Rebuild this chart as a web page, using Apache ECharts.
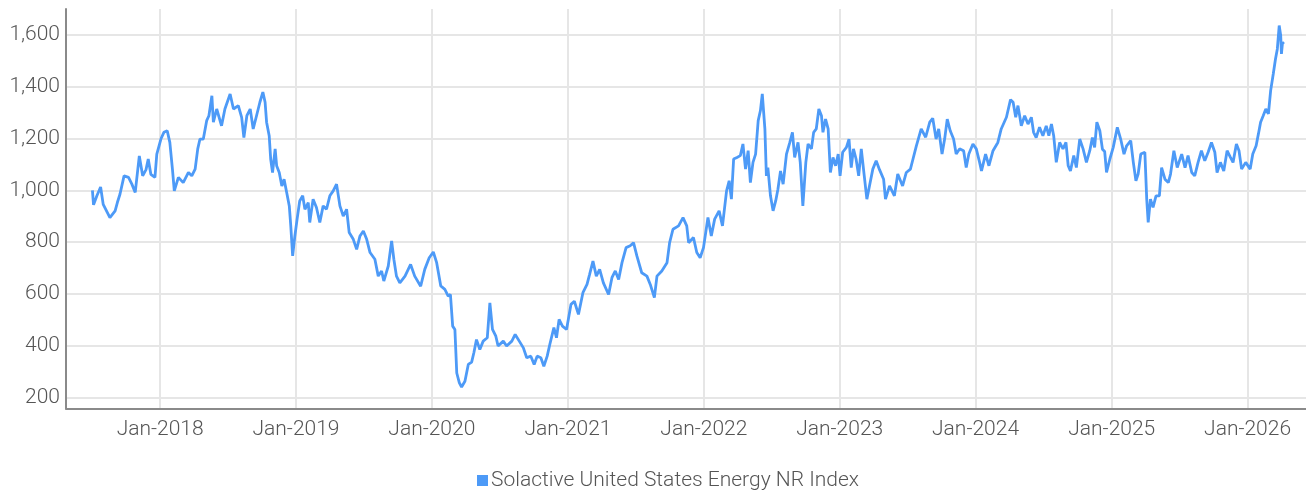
<!DOCTYPE html>
<html>
<head>
<meta charset="utf-8">
<script src="https://cdn.jsdelivr.net/npm/echarts@6/dist/echarts.min.js"></script>
<style>
html,body{margin:0;padding:0;background:#fff;}
#chart{width:1306px;height:493px;}
</style>
</head>
<body>
<div id="chart"></div>
<script>
const seriesName = 'Solactive United States Energy NR Index';
const yearTickLabels = ['Jan-2018','Jan-2019','Jan-2020','Jan-2021','Jan-2022','Jan-2023','Jan-2024','Jan-2025','Jan-2026'];

const dates2017 = ['2017-07-03','2017-07-06','2017-07-15','2017-07-25','2017-08-01','2017-08-19','2017-09-02','2017-09-08','2017-09-15','2017-09-26','2017-10-08','2017-10-17','2017-10-26','2017-11-06','2017-11-15','2017-11-24','2017-11-30','2017-12-07','2017-12-18','2017-12-23'];
const values2017 = [1000,944,979,1013,946,895,921,953,985,1056,1050,1024,992,1133,1056,1080,1121,1062,1050,1140];

const dates2018 = ['2018-01-03','2018-01-11','2018-01-20','2018-01-27','2018-02-03','2018-02-08','2018-02-19','2018-03-04','2018-03-18','2018-03-27','2018-04-05','2018-04-12','2018-04-18','2018-04-27','2018-05-06','2018-05-12','2018-05-20','2018-05-24','2018-06-02','2018-06-15','2018-06-24','2018-07-08','2018-07-17','2018-07-30','2018-08-08','2018-08-14','2018-08-22','2018-08-31','2018-09-08','2018-09-17','2018-09-26','2018-10-04','2018-10-10','2018-10-14','2018-10-21','2018-10-25','2018-10-30','2018-11-06','2018-11-10','2018-11-17','2018-11-24','2018-11-30','2018-12-07','2018-12-14','2018-12-18','2018-12-23','2018-12-29'];
const values2018 = [1198,1224,1230,1185,1082,998,1050,1030,1069,1056,1082,1160,1198,1198,1269,1288,1365,1263,1314,1249,1314,1372,1314,1327,1282,1204,1288,1314,1237,1288,1340,1379,1340,1263,1211,1121,1069,1160,1095,1069,1017,1043,992,940,863,747,824];

const dates2019 = ['2019-01-04','2019-01-11','2019-01-19','2019-01-25','2019-02-03','2019-02-07','2019-02-16','2019-02-25','2019-03-06','2019-03-15','2019-03-24','2019-04-02','2019-04-11','2019-04-20','2019-04-29','2019-05-08','2019-05-17','2019-05-24','2019-06-04','2019-06-13','2019-06-22','2019-07-01','2019-07-10','2019-07-19','2019-08-01','2019-08-10','2019-08-19','2019-08-25','2019-09-06','2019-09-15','2019-09-21','2019-09-28','2019-10-07','2019-10-21','2019-11-05','2019-11-16','2019-12-02','2019-12-13','2019-12-25'];
const values2019 = [889,959,979,927,953,876,966,934,876,940,927,979,998,1024,940,901,927,837,811,772,824,843,811,760,734,669,689,650,708,805,734,669,643,669,714,669,630,695,740];

const dates2020 = ['2020-01-05','2020-01-14','2020-01-25','2020-02-05','2020-02-14','2020-02-20','2020-02-26','2020-03-03','2020-03-08','2020-03-15','2020-03-21','2020-03-30','2020-04-08','2020-04-17','2020-04-23','2020-04-30','2020-05-09','2020-05-18','2020-05-29','2020-06-05','2020-06-12','2020-06-21','2020-06-27','2020-07-11','2020-07-20','2020-08-03','2020-08-12','2020-08-23','2020-09-03','2020-09-12','2020-09-23','2020-10-02','2020-10-10','2020-10-20','2020-10-28','2020-11-06','2020-11-13','2020-11-24','2020-12-01','2020-12-08','2020-12-17','2020-12-28'];
const values2020 = [762,721,631,618,592,598,476,463,295,257,241,263,328,337,373,424,386,418,431,566,463,437,399,418,399,418,444,418,392,354,360,328,360,354,321,360,405,470,431,502,476,463];

const dates2021 = ['2021-01-09','2021-01-18','2021-01-29','2021-02-10','2021-02-21','2021-02-28','2021-03-09','2021-03-18','2021-03-27','2021-04-06','2021-04-20','2021-04-29','2021-05-08','2021-05-17','2021-05-26','2021-06-06','2021-06-17','2021-06-26','2021-07-05','2021-07-18','2021-08-01','2021-08-10','2021-08-21','2021-08-28','2021-09-10','2021-09-24','2021-10-01','2021-10-10','2021-10-25','2021-11-06','2021-11-16','2021-11-21','2021-12-04','2021-12-13','2021-12-22','2021-12-31'];
const values2021 = [560,572,521,605,637,676,727,669,695,643,598,663,689,656,721,779,786,798,747,682,669,637,586,669,689,721,798,850,863,895,863,798,818,760,740,779];

const dates2022 = ['2022-01-12','2022-01-21','2022-01-30','2022-02-11','2022-02-20','2022-03-03','2022-03-10','2022-03-16','2022-03-22','2022-03-31','2022-04-09','2022-04-16','2022-04-23','2022-04-30','2022-05-06','2022-05-13','2022-05-20','2022-05-27','2022-06-02','2022-06-07','2022-06-14','2022-06-18','2022-06-22','2022-06-29','2022-07-06','2022-07-13','2022-07-19','2022-07-26','2022-08-02','2022-08-11','2022-08-20','2022-08-27','2022-09-02','2022-09-11','2022-09-17','2022-09-24','2022-10-02','2022-10-08','2022-10-17','2022-10-23','2022-10-30','2022-11-06','2022-11-13','2022-11-17','2022-11-24','2022-12-01','2022-12-07','2022-12-14','2022-12-21','2022-12-28'];
const values2022 = [895,824,889,921,863,998,1037,966,1121,1127,1134,1179,1082,1153,1030,1108,1140,1269,1308,1372,1237,1056,1088,979,921,959,1004,1075,1024,1140,1185,1224,1127,1185,1108,940,1108,1179,1160,1224,1237,1314,1288,1224,1275,1237,1069,1127,1095,1140];

const dates2023 = ['2023-01-02','2023-01-09','2023-01-19','2023-01-26','2023-02-01','2023-02-07','2023-02-14','2023-02-21','2023-02-28','2023-03-08','2023-03-15','2023-03-22','2023-03-31','2023-04-09','2023-04-18','2023-04-29','2023-05-04','2023-05-15','2023-05-28','2023-06-06','2023-06-19','2023-06-29','2023-07-10','2023-07-17','2023-07-26','2023-08-08','2023-08-20','2023-08-31','2023-09-08','2023-09-17','2023-09-24','2023-10-03','2023-10-10','2023-10-17','2023-10-25','2023-11-03','2023-11-10','2023-11-19','2023-11-30','2023-12-07','2023-12-14','2023-12-25'];
const values2023 = [1056,1147,1166,1198,1088,1160,1121,1056,1160,1056,966,1017,1082,1114,1080,1043,966,1017,979,1063,1017,1069,1082,1121,1172,1237,1205,1263,1278,1198,1237,1140,1198,1275,1230,1198,1140,1160,1153,1088,1140,1179];

const dates2024 = ['2024-01-03','2024-01-12','2024-01-17','2024-01-28','2024-02-06','2024-02-17','2024-03-01','2024-03-10','2024-03-24','2024-04-04','2024-04-11','2024-04-18','2024-04-24','2024-05-03','2024-05-12','2024-05-21','2024-05-30','2024-06-05','2024-06-12','2024-06-21','2024-06-30','2024-07-09','2024-07-16','2024-07-23','2024-07-29','2024-08-05','2024-08-14','2024-08-23','2024-08-31','2024-09-06','2024-09-12','2024-09-21','2024-09-28','2024-10-07','2024-10-16','2024-10-25','2024-11-03','2024-11-10','2024-11-16','2024-11-22','2024-11-30','2024-12-07','2024-12-13','2024-12-18','2024-12-27'];
const values2024 = [1160,1108,1075,1140,1095,1153,1185,1237,1282,1350,1340,1282,1327,1249,1288,1256,1282,1224,1204,1244,1211,1249,1211,1256,1211,1108,1185,1160,1185,1095,1075,1134,1088,1198,1160,1108,1153,1204,1166,1263,1230,1159,1150,1069,1121];

const dates2025 = ['2025-01-05','2025-01-16','2025-01-25','2025-02-03','2025-02-10','2025-02-21','2025-02-28','2025-03-07','2025-03-13','2025-03-20','2025-03-31','2025-04-05','2025-04-09','2025-04-15','2025-04-22','2025-04-30','2025-05-09','2025-05-15','2025-05-24','2025-06-02','2025-06-08','2025-06-17','2025-06-26','2025-07-08','2025-07-17','2025-07-25','2025-08-04','2025-08-12','2025-08-21','2025-08-30','2025-09-08','2025-09-17','2025-09-26','2025-10-05','2025-10-11','2025-10-20','2025-10-29','2025-11-07','2025-11-16','2025-11-23','2025-12-02','2025-12-09','2025-12-16','2025-12-27'];
const values2025 = [1166,1243,1198,1140,1172,1192,1108,1037,1063,1140,1147,966,876,966,934,979,979,1088,1043,1030,1063,1153,1088,1140,1088,1134,1069,1056,1108,1153,1114,1147,1185,1147,1069,1108,1075,1153,1127,1108,1179,1153,1082,1108];

const dates2026 = ['2026-01-08','2026-01-15','2026-01-24','2026-01-30','2026-02-05','2026-02-12','2026-02-19','2026-02-26','2026-03-04','2026-03-11','2026-03-17','2026-03-22','2026-03-27','2026-03-31','2026-04-02','2026-04-05','2026-04-08'];
const values2026 = [1082,1140,1172,1217,1263,1288,1314,1295,1385,1449,1507,1546,1636,1598,1527,1572,1565];

const allDates = [].concat(dates2017, dates2018, dates2019, dates2020, dates2021, dates2022, dates2023, dates2024, dates2025, dates2026);
const allValues = [].concat(values2017, values2018, values2019, values2020, values2021, values2022, values2023, values2024, values2025, values2026);
const seriesData = allDates.map((d, i) => [d, allValues[i]]);

const FONT = 'Roboto';
const chart = echarts.init(document.getElementById('chart'), null, {renderer: 'canvas'});
const YEAR_MS = 365.25 * 24 * 3600 * 1000;
chart.setOption({
  animation: false,
  useUTC: true,
  backgroundColor: '#ffffff',
  grid: {left: 66, right: 0, top: 9, bottom: 84.5, containLabel: false},
  legend: {
    data: [seriesName],
    left: 472, top: 465,
    icon: 'rect', itemWidth: 11, itemHeight: 11, itemGap: 6,
    textStyle: {fontFamily: FONT, fontWeight: 300, fontSize: 21, color: '#555555', padding: [0,0,0,-2]}
  },
  xAxis: {
    type: 'time',
    min: '2017-04-23', max: '2026-06-07',
    minInterval: YEAR_MS, maxInterval: YEAR_MS,
    axisLine: {show: true, lineStyle: {color: '#8a8a8a', width: 2}},
    axisTick: {show: false},
    splitLine: {show: true, showMinLine: false, showMaxLine: false, lineStyle: {color: '#e6e6e6', width: 2}},
    axisLabel: {
      showMinLabel: false, showMaxLabel: false,
      fontFamily: FONT, fontWeight: 300, fontSize: 21, color: '#555555', margin: 11,
      formatter: function (v) {
        const y = new Date(v + 2 * 86400000).getUTCFullYear();
        const lbl = 'Jan-' + y;
        return yearTickLabels.indexOf(lbl) >= 0 ? lbl : '';
      }
    }
  },
  yAxis: {
    type: 'value',
    min: 158, max: 1700,
    minInterval: 200, maxInterval: 200,
    axisLine: {show: true, lineStyle: {color: '#8a8a8a', width: 2}},
    axisTick: {show: false},
    splitLine: {show: true, showMinLine: false, showMaxLine: false, lineStyle: {color: '#e6e6e6', width: 2}},
    axisLabel: {
      showMinLabel: false, showMaxLabel: false,
      fontFamily: FONT, fontWeight: 300, fontSize: 21, color: '#555555', margin: 6,
      formatter: function (v) { return v.toLocaleString('en-US'); }
    }
  },
  series: [{
    name: seriesName,
    type: 'line',
    data: seriesData,
    showSymbol: false,
    symbol: 'none',
    lineStyle: {color: '#4d9af7', width: 2.8},
    itemStyle: {color: '#4d9af7'}
  }]
});
</script>
</body>
</html>
